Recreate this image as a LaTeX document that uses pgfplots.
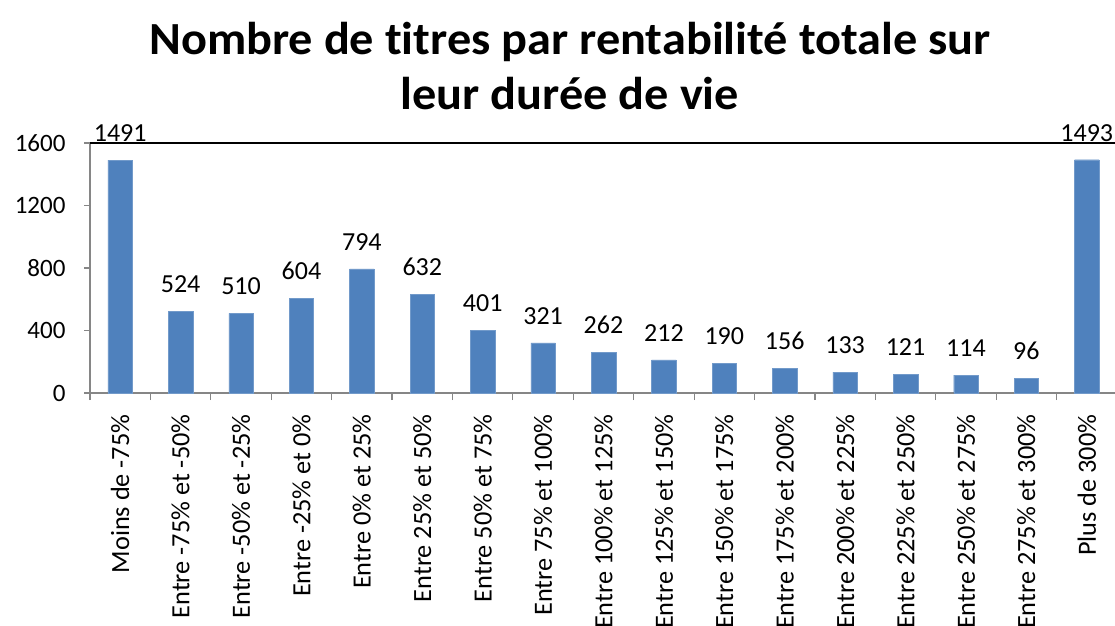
\documentclass[border=0pt]{standalone}
\usepackage{pgfplots}
\pgfplotsset{compat=1.18}
\usepackage{fontspec}
\setmainfont{Carlito}[Ligatures=NoCommon]
\newfontfamily\titlefont{Carlito}[Ligatures=NoCommon, FakeStretch=1.05]
\definecolor{barblue}{HTML}{4F81BD}
\definecolor{axgray}{HTML}{868686}
\begin{document}
\begin{tikzpicture}
\useasboundingbox (0pt,0pt) rectangle (1115pt,625pt);
\node[align=center,font=\titlefont\bfseries\fontsize{46}{55}\selectfont] at (570pt,559pt) {Nombre de titres par rentabilité totale sur\\leur durée de vie};
\begin{axis}[
  at={(90pt,232pt)}, anchor=south west,
  scale only axis, width=1027pt, height=250pt,
  xmin=-0.5, xmax=16.5, ymin=0, ymax=1600,
  clip=false,
  axis x line*=bottom, axis y line*=left,
  axis line style={axgray, line width=1.2pt},
  ytick={0,400,800,1200,1600},
  xtick={0,...,16},
  xticklabels={Moins de -75\%, Entre -75\% et -50\%, Entre -50\% et -25\%, Entre -25\% et 0\%, Entre 0\% et 25\%, Entre 25\% et 50\%, Entre 50\% et 75\%, Entre 75\% et 100\%, Entre 100\% et 125\%, Entre 125\% et 150\%, Entre 150\% et 175\%, Entre 175\% et 200\%, Entre 200\% et 225\%, Entre 225\% et 250\%, Entre 250\% et 275\%, Entre 275\% et 300\%, Plus de 300\%},
  minor xtick={-0.5,0.5,...,16.5},
  major x tick style={draw=none},
  minor x tick style={axgray, line width=1.2pt},
  y tick style={axgray, line width=1.2pt},
  minor tick length=7pt, major tick length=6pt,
  tick align=outside,
  x tick label style={rotate=90, anchor=east, font=\fontsize{26.3}{30}\selectfont},
  xticklabel shift=12pt,
  y tick label style={font=\fontsize{25}{30}\selectfont},
  yticklabel shift=15pt,
  /pgf/number format/assume math mode=true,
  /pgf/number format/set thousands separator={},
  ybar, bar width=24.5pt,
  nodes near coords,
  nodes near coords style={font=\fontsize{26}{30}\selectfont, anchor=south, yshift=15pt, black},
]
\addplot[fill=barblue, draw=barblue!80!white] coordinates {
(0,1491) (1,524) (2,510) (3,604) (4,794) (5,632) (6,401) (7,321) (8,262) (9,212) (10,190) (11,156) (12,133) (13,121) (14,114) (15,96) (16,1493)};
\draw[black, line width=1.2pt] (rel axis cs:0,1) -- (rel axis cs:1,1);
\end{axis}
\end{tikzpicture}
\end{document}
